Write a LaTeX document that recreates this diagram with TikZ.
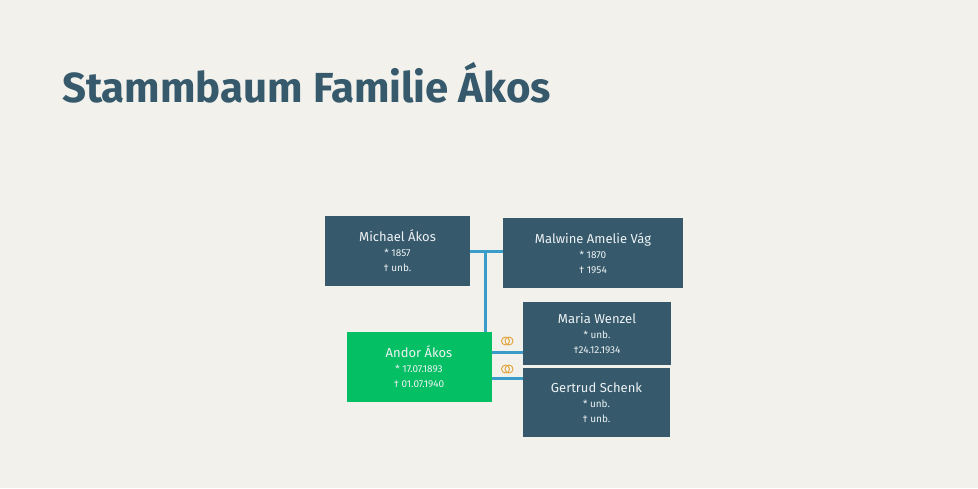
\documentclass[tikz,border=0pt]{standalone}
\usepackage{fontspec}
\setmainfont{Fira Sans}
\definecolor{bg}{HTML}{F2F1EC}
\definecolor{slate}{HTML}{365A6C}
\definecolor{green}{HTML}{04BF63}
\definecolor{link}{HTML}{3A9CC8}
\definecolor{ring}{HTML}{E2A23A}
\definecolor{txt}{HTML}{EEF2F4}
\newcommand\dl[1]{{\fontsize{10}{15}\selectfont #1}}
\begin{document}
\begin{tikzpicture}[x=1pt,y=-1pt,
  person/.style={fill=slate,text=txt,inner sep=0pt,align=center,font=\fontsize{13}{16}\selectfont},
  ego/.style={person,fill=green},
  conn/.style={draw=link,line width=3pt},
  ringc/.style={draw=ring,line width=0.9pt}]
\fill[bg] (0,0) rectangle (978,488);
\useasboundingbox (0,0) rectangle (978,488);
\node[anchor=base west,text=slate,font=\fontsize{42}{50}\bfseries\selectfont,inner sep=0pt] (title) at (62,102) {Stammbaum Familie Ákos};
\node[person,minimum width=145,minimum height=70] (michael) at (397.5,251) {Michael Ákos\\[-1pt]\dl{* 1857}\\[-1pt]\dl{† unb.}};
\node[person,minimum width=180,minimum height=70] (malwine) at (593,253) {Malwine Amelie Vág\\[-1pt]\dl{* 1870}\\[-1pt]\dl{† 1954}};
\node[ego,minimum width=145,minimum height=70] (andor) at (419,367) {Andor Ákos\\[-1pt]\dl{* 17.07.1893}\\[-1pt]\dl{† 01.07.1940}};
\node[person,minimum width=148,minimum height=63] (maria) at (597,333.5) {Maria Wenzel\\[-1pt]\dl{* unb.}\\[-1pt]\dl{†24.12.1934}};
\node[person,minimum width=147,minimum height=69] (gertrud) at (596.5,402.5) {Gertrud Schenk\\[-1pt]\dl{* unb.}\\[-1pt]\dl{† unb.}};
\coordinate (mid) at (485,251);
\draw[conn] (michael.east |- mid) -- (malwine.west |- mid);
\draw[conn] (mid) -- (mid |- andor.north);
\coordinate (m1) at (492,352);
\coordinate (m2) at (492,378);
\draw[conn] (andor.east |- m1) -- (maria.west |- m1);
\draw[conn] (andor.east |- m2) -- (gertrud.west |- m2);
\foreach \y in {341,369}{
  \draw[ringc] (505.5,\y) circle (4);
  \draw[ringc] (509,\y) circle (4);
}
\end{tikzpicture}
\end{document}
